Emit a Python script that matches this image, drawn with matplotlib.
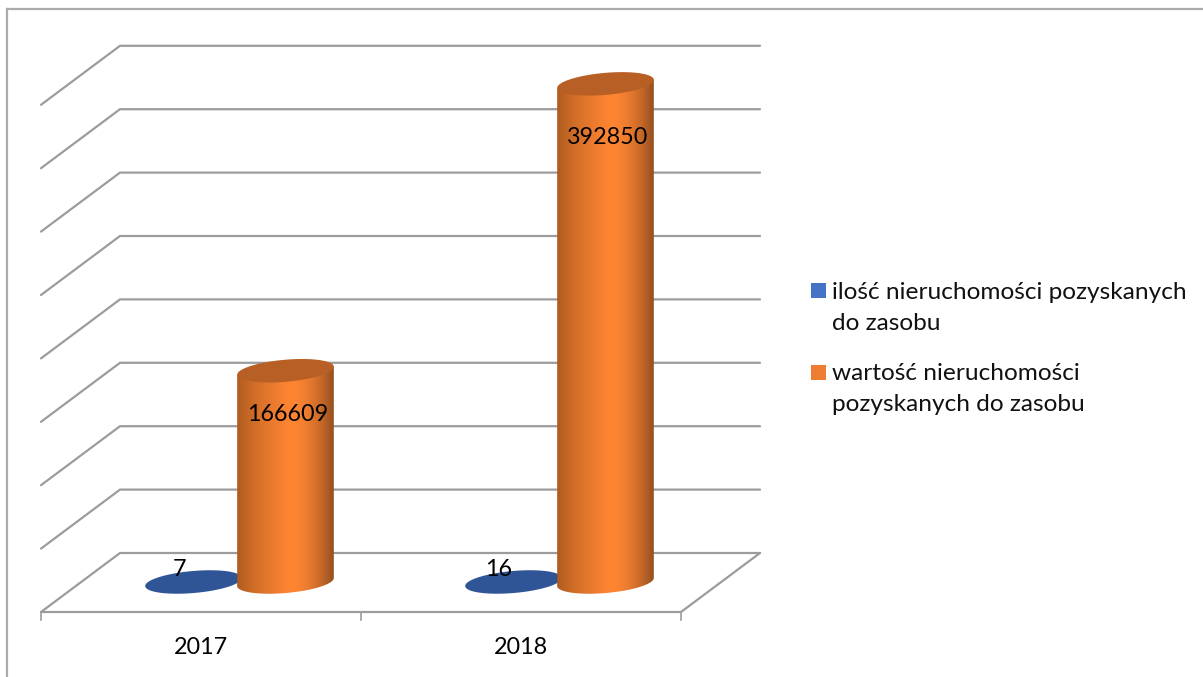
import numpy as np
import matplotlib
matplotlib.use('Agg')
import matplotlib.pyplot as plt
from matplotlib.colors import to_rgb
from matplotlib.patches import Polygon

plt.rcParams['font.family'] = ['Lato', 'DejaVu Sans']

# data
years = ['2017', '2018']
ilosc = [7, 16]
wartosc = [166609, 392850]
legend_lines = [['ilość nieruchomości pozyskanych', 'do zasobu'],
                ['wartość nieruchomości', 'pozyskanych do zasobu']]
ticks = [0, 50000, 100000, 150000, 200000, 250000, 300000, 350000, 400000]

W, H = 1203, 677
X0, Y0 = 41, 612         # front left corner of the floor, pixels
CAT = 320                # pixels per category
PX_VAL = 63.4 / 50000    # pixels per unit of value
DEPTH = (79, -59)        # pixel shift from front to back wall
GRID = '#9c9c9c'


def dx(p):
    return p / CAT


def dy(p):
    return -p / PX_VAL


fig = plt.figure(figsize=(W / 100, H / 100), dpi=100)
ax = fig.add_axes([0, 0, 1, 1])
ax.axis('off')

# outer frame of the chart
ax.plot([dx(7 - X0), dx(7 - X0)], [dy(H - Y0), dy(9.5 - Y0)], color='#ababab', lw=1.6)
ax.plot([dx(7 - X0), dx(W - X0)], [dy(9.5 - Y0), dy(9.5 - Y0)], color='#ababab', lw=1.6)

bx, by = dx(DEPTH[0]), dy(DEPTH[1])

# back and side wall grid
for t in ticks:
    ax.plot([0, bx, 2 + bx], [t, t + by, t + by], color=GRID, lw=1.6,
            solid_joinstyle='miter', solid_capstyle='round')
# floor
ax.plot([0, 2, 2 + bx], [0, 0, by], color=GRID, lw=1.6, solid_capstyle='round')
for i in range(3):
    ax.plot([i, i], [0, dy(8)], color=GRID, lw=1.2)


def cylinder(cat, offset, value, side_cols, top_col):
    cx = cat + dx(offset)
    cy = dy(-30)
    a, b = 48.5, 11.0
    tilt = np.deg2rad(5)
    t = np.linspace(0, 2 * np.pi, 121)
    ex = a * np.cos(t) * np.cos(tilt) - b * np.sin(t) * np.sin(tilt)
    ey = a * np.cos(t) * np.sin(tilt) + b * np.sin(t) * np.cos(tilt)
    ex_d, ey_d = dx(ex), dy(-ey)
    top_y = cy + value
    if side_cols is None:
        ax.fill(cx + ex_d, top_y + ey_d, color=top_col, lw=0, zorder=3)
        return
    # body: lower half of the bottom rim, closed along the top rim
    low = t >= np.pi
    xs = np.r_[cx + ex_d[low], cx + ex_d[low][-1], cx + ex_d[low][0]]
    ys = np.r_[cy + ey_d[low], top_y + ey_d[low][-1], top_y + ey_d[low][0]]
    body = Polygon(np.c_[xs, ys], closed=True, fc='none', ec='none')
    ax.add_patch(body)
    c0, c1, c2 = [np.array(to_rgb(c)) for c in side_cols]
    rgb = []
    for g in np.linspace(0, 1, 200):
        if g < 0.55:
            rgb.append(c0 + (c1 - c0) * (g / 0.55) ** 0.7)
        else:
            rgb.append(c1 + (c2 - c1) * ((g - 0.55) / 0.45) ** 1.8)
    rgb = np.array(rgb)[None, :, :]
    im = ax.imshow(rgb, extent=[cx + ex_d.min(), cx + ex_d.max(), cy + ey_d.min(), top_y + ey_d.max()],
                   aspect='auto', zorder=3, interpolation='bilinear')
    im.set_clip_path(body)
    ax.fill(cx + ex_d, top_y + ey_d, color=top_col, lw=0, zorder=4)


for i in range(len(years)):
    cylinder(i, 152.5, ilosc[i], None, '#2f5597')
    cylinder(i, 244.5, wartosc[i], ('#a9591f', '#ff8533', '#94501f'), '#b75f24')

ax.set_xlim(-X0 / CAT, (W - X0) / CAT)
ax.set_ylim((Y0 - H) / PX_VAL, Y0 / PX_VAL)

# data labels
label_shift = [44, 54]
for i in range(len(years)):
    ax.text(i + dx(138), dy(-42), str(ilosc[i]), fontsize=16.8, ha='center', va='center', color='black', zorder=6)
    ax.text(i + dx(247), dy(-30 + label_shift[i]) + wartosc[i], str(wartosc[i]), fontsize=16.8,
            ha='center', va='center', color='black', zorder=6)
    ax.text(i + 0.5, dy(36), years[i], fontsize=16.8, ha='center', va='center', color='black')

# legend
legend_cols = ['#4472c4', '#ed7d31']
legend_y = [291, 372]
for col, y, lines in zip(legend_cols, legend_y, legend_lines):
    ax.fill([dx(811 - X0), dx(826 - X0), dx(826 - X0), dx(811 - X0)],
            [dy(y - 7.5 - Y0), dy(y - 7.5 - Y0), dy(y + 7.5 - Y0), dy(y + 7.5 - Y0)], color=col, lw=0)
    for j, line in enumerate(lines):
        ax.text(dx(832 - X0), dy(y + 1.5 + j * 31 - Y0), line, fontsize=17.6, ha='left', va='center', color='#111111')

fig.savefig('out.png', dpi=100)
